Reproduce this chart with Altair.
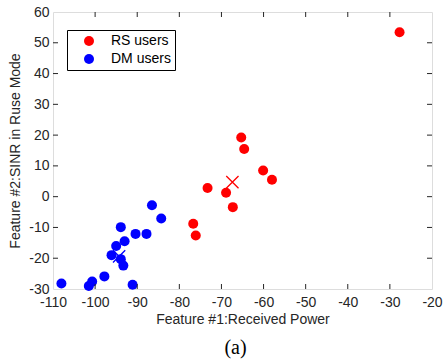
import altair as alt
import pandas as pd

# RS users (red)
rs_x = [-27.7, -65.3, -64.6, -60.1, -58.0, -73.3, -68.9, -67.3, -76.7, -76.1]
rs_y = [53.4, 19.2, 15.5, 8.5, 5.5, 2.8, 1.3, -3.4, -8.8, -12.6]
# DM users (blue)
dm_x = [-86.5, -84.3, -93.9, -90.4, -87.8, -93.0, -95.0, -96.1, -93.9, -93.3,
        -97.8, -100.7, -101.5, -108.0, -91.1]
dm_y = [-2.8, -7.1, -9.9, -12.1, -12.1, -14.5, -16.0, -19.0, -20.3, -22.4,
        -25.9, -27.6, -29.0, -28.2, -28.6]
# cluster centroids (crosses)
cent_x = [-67.4, -94.3]
cent_y = [4.7, -19.4]
cent_group = ["RS users", "DM users"]

x_ticks = [-110, -100, -90, -80, -70, -60, -50, -40, -30, -20]
y_ticks = [-30, -20, -10, 0, 10, 20, 30, 40, 50, 60]

W, H = 379, 277
FONT = "Liberation Sans"

pts = pd.DataFrame({
    "x": rs_x + dm_x,
    "y": rs_y + dm_y,
    "group": ["RS users"] * len(rs_x) + ["DM users"] * len(dm_x),
})
cents = pd.DataFrame({"x": cent_x, "y": cent_y, "group": cent_group})
xt = pd.DataFrame({"v": x_ticks[1:-1]})
yt = pd.DataFrame({"v": y_ticks[1:-1]})

xscale = alt.Scale(domain=[-110, -20], nice=False, zero=False)
yscale = alt.Scale(domain=[-30, 60], nice=False, zero=False)
cscale = alt.Scale(domain=["RS users", "DM users"], range=["#FF0000", "#0000FF"])

common = dict(grid=False, ticks=False, tickSize=0, domain=False,
              labelFontSize=14, titleFontSize=14, labelFont=FONT, titleFont=FONT,
              titleFontWeight="normal", labelColor="#262626", titleColor="#262626",
              labelExpr="'' + datum.value", labelOverlap=False, labelFlush=False,
              labelBound=False)
xaxis = alt.Axis(values=x_ticks, title="Feature #1:Received Power",
                 labelPadding=6, titlePadding=3, **common)
yaxis = alt.Axis(values=y_ticks, title="Feature #2:SINR in Ruse Mode",
                 labelPadding=4, titlePadding=6, **common)

dots = alt.Chart(pts).mark_point(filled=True, opacity=1, size=100).encode(
    x=alt.X("x:Q", scale=xscale, axis=xaxis),
    y=alt.Y("y:Q", scale=yscale, axis=yaxis),
    color=alt.Color("group:N", scale=cscale, sort=["RS users", "DM users"],
                    legend=alt.Legend(
                        title=None, orient="none", legendX=14, legendY=18,
                        strokeColor="black", fillColor="white", padding=4,
                        symbolOffset=11, labelOffset=15, labelFontSize=14,
                        labelFont=FONT, labelColor="black", rowPadding=4,
                        symbolSize=100, symbolType="circle", cornerRadius=0,
                        symbolStrokeWidth=0)),
)

crosses = alt.Chart(cents).mark_point(
    shape="M-1,-1L1,1M-1,1L1,-1", filled=False, size=150, strokeWidth=1.3, opacity=1
).encode(
    x=alt.X("x:Q", scale=xscale, axis=xaxis),
    y=alt.Y("y:Q", scale=yscale, axis=yaxis),
    stroke=alt.Stroke("group:N", scale=cscale, legend=None),
)

tk = dict(color="#262626", strokeWidth=1)
xb = alt.Chart(xt).mark_rule(**tk).encode(x=alt.X("v:Q", scale=xscale, axis=xaxis),
                                          y=alt.value(H), y2=alt.value(H - 5))
xtop = alt.Chart(xt).mark_rule(**tk).encode(x=alt.X("v:Q", scale=xscale, axis=xaxis),
                                            y=alt.value(0), y2=alt.value(5))
yl = alt.Chart(yt).mark_rule(**tk).encode(y=alt.Y("v:Q", scale=yscale, axis=yaxis),
                                          x=alt.value(0), x2=alt.value(5))
yr = alt.Chart(yt).mark_rule(**tk).encode(y=alt.Y("v:Q", scale=yscale, axis=yaxis),
                                          x=alt.value(W), x2=alt.value(W - 5))

chart = alt.layer(dots, crosses, xb, xtop, yl, yr).properties(
    width=W, height=H,
    padding={"left": 53, "top": 12, "right": 13, "bottom": 71},
    autosize=alt.AutoSizeParams(type="none"),
    title=alt.TitleParams("(a)", orient="bottom", font="Liberation Serif",
                          fontSize=20, fontWeight="normal", color="black",
                          offset=12, dx=-7, anchor="middle"),
).configure_view(stroke="#262626", strokeWidth=1).configure(background="white")

chart.save("out.html", embed_options={"renderer": "svg", "actions": False})
